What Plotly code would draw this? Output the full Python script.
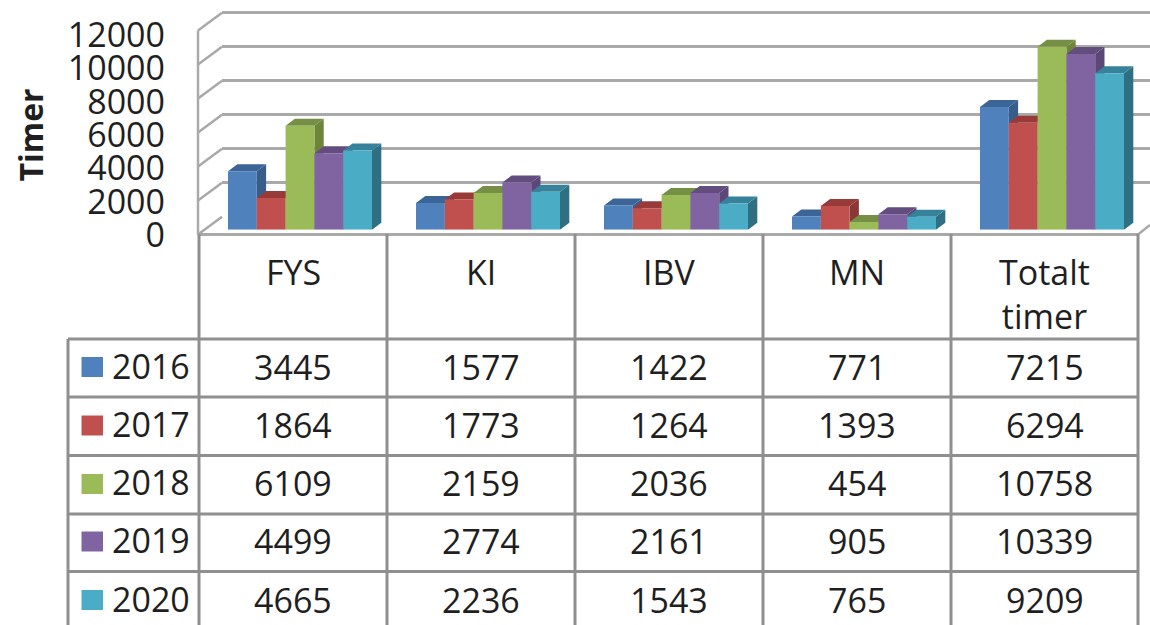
import plotly.graph_objects as go

categories = ["FYS", "KI", "IBV", "MN", "Totalt timer"]
years = ["2016", "2017", "2018", "2019", "2020"]
v2016 = [3445, 1577, 1422, 771, 7215]
v2017 = [1864, 1773, 1264, 1393, 6294]
v2018 = [6109, 2159, 2036, 454, 10758]
v2019 = [4499, 2774, 2161, 905, 10339]
v2020 = [4665, 2236, 1543, 765, 9209]
series = [v2016, v2017, v2018, v2019, v2020]
front = ["#4f81bd", "#c0504d", "#9bbb59", "#8064a2", "#4bacc6"]
side = ["#385d8a", "#8a3836", "#6d8539", "#5c4776", "#2f6f82"]
top = ["#3a6596", "#973a38", "#758f45", "#624d7e", "#35829a"]

W, H = 1150, 625
FONT = "Open Sans"
TXT = "#1f1f1f"
GRID = "#a9a9a9"
TABLE = "#8f8f8f"


def fx(p):
    return p / W


def fy(p):
    return 1 - p / H


PX_PER_UNIT = 0.017
PITCH = 188.0
X0 = 198.0
BASE_PX = 229.7
x_rng = [-102 / PITCH, -102 / PITCH + (W - X0) / PITCH]
y_rng = [0, BASE_PX / PX_PER_UNIT]
GROUP = 0.766
DEPTH_X = 9.3 / PITCH
DEPTH_Y = 7 / PX_PER_UNIT

fig = go.Figure()

# walls and tick labels (empty traces keep their axes alive)
fig.add_trace(go.Scatter(x=[], y=[], xaxis="x", yaxis="y", showlegend=False))
fig.add_trace(go.Scatter(x=[], y=[], xaxis="x2", yaxis="y2", showlegend=False))

# depth faces of each bar, through the data axes
bw = GROUP / len(series)
for j, vals in enumerate(series):
    for i, v in enumerate(vals):
        xl = i - GROUP / 2 + j * bw
        xr = xl + bw
        fig.add_trace(go.Scatter(
            x=[xr, xr + DEPTH_X, xr + DEPTH_X, xr, xr],
            y=[0, DEPTH_Y, v + DEPTH_Y, v, 0],
            fill="toself", fillcolor=side[j], mode="none",
            xaxis="x3", yaxis="y3", showlegend=False, hoverinfo="skip"))
        fig.add_trace(go.Scatter(
            x=[xl, xl + DEPTH_X, xr + DEPTH_X, xr, xl],
            y=[v, v + DEPTH_Y, v + DEPTH_Y, v, v],
            fill="toself", fillcolor=top[j], mode="none",
            xaxis="x3", yaxis="y3", showlegend=False, hoverinfo="skip"))

# front faces as real bars
for j, vals in enumerate(series):
    fig.add_trace(go.Bar(x=categories, y=vals, name=years[j], marker_color=front[j],
                         marker_line_width=0, xaxis="x4", yaxis="y4", showlegend=False))

shapes = []
annotations = []


def line(x0, y0, x1, y1, color, width, layer="above"):
    shapes.append(dict(type="line", xref="paper", yref="paper", x0=fx(x0), y0=fy(y0),
                       x1=fx(x1), y1=fy(y1), line=dict(color=color, width=width), layer=layer))


# side wall and floor
BACK_X, BACK_Y0, FRONT_Y0, WALL_H = 222.0, 216.7, 234.5, 204.0
for k in range(7):
    d = WALL_H * k / 6
    line(X0, FRONT_Y0 - d, BACK_X, BACK_Y0 - d, GRID, 2.5, "below")
line(X0, FRONT_Y0 - WALL_H, X0, FRONT_Y0, GRID, 2.5, "below")
line(X0, FRONT_Y0, 1138, FRONT_Y0, GRID, 3, "below")
line(1138, FRONT_Y0, 1150, 225, GRID, 2.5, "below")

# data table
col_x = [199, 387, 575, 763, 951, 1138]
row_y = [339, 397, 455.5, 514, 571.5]
row_text_y = [367, 425, 483, 541, 600]
key_y = [367, 425.5, 484, 541.5, 600]
for x in col_x:
    line(x, 234, x, 625, TABLE, 3)
line(68, 339, 68, 625, TABLE, 3)
for y in row_y:
    line(68, y, 1138, y, TABLE, 3)


def text(px, py, s, anchor="center", yanchor="middle"):
    annotations.append(dict(xref="paper", yref="paper", x=fx(px), y=fy(py), text=s, showarrow=False,
                            xanchor=anchor, yanchor=yanchor, align="center",
                            font=dict(family=FONT, size=34, color=TXT)))


for i, c in enumerate(categories):
    cx = (col_x[i] + col_x[i + 1]) / 2
    text(cx, 247, c.replace(" ", "<br>"), yanchor="top")
    for j, vals in enumerate(series):
        text(cx, row_text_y[j], str(vals[i]))

for j, yr in enumerate(years):
    text(110, row_text_y[j] - 1, yr, anchor="left")
    shapes.append(dict(type="rect", xref="paper", yref="paper", x0=fx(81.5), x1=fx(103),
                       y0=fy(key_y[j] - 10), y1=fy(key_y[j] + 10),
                       fillcolor=front[j], line=dict(width=0)))

hidden = dict(visible=False, fixedrange=True)
fig.update_layout(
    width=W, height=H, autosize=False,
    margin=dict(l=0, r=0, t=0, b=0, autoexpand=False),
    paper_bgcolor="white", plot_bgcolor="rgba(0,0,0,0)",
    barmode="group", bargap=1 - GROUP, bargroupgap=0,
    shapes=shapes, annotations=annotations, showlegend=False,
    xaxis=dict(domain=[fx(BACK_X), 1], anchor="y", **hidden),
    yaxis=dict(domain=[fy(BACK_Y0), fy(BACK_Y0 - WALL_H * 1.02)], anchor="x", range=[0, 12240], dtick=2000,
               showgrid=True, gridcolor=GRID, gridwidth=2.5, zeroline=False, showticklabels=False,
               showline=False, ticks=""),
    xaxis2=dict(domain=[fx(X0), 1], anchor="y2", **hidden),
    yaxis2=dict(domain=[fy(235), fy(35)], anchor="x2", range=[0, 12000], dtick=2000, tickformat="d",
                showgrid=False, zeroline=False, showline=False, ticks="", ticklabelstandoff=32,
                tickfont=dict(family=FONT, size=34, color=TXT),
                title=dict(text="<b>Timer</b>", standoff=14, font=dict(family=FONT, size=32, color=TXT))),
    xaxis3=dict(domain=[fx(X0), 1], anchor="y3", range=x_rng, **hidden),
    yaxis3=dict(domain=[fy(BASE_PX), 1], anchor="x3", range=y_rng, **hidden),
    xaxis4=dict(domain=[fx(X0), 1], anchor="y4", type="category", range=x_rng, **hidden),
    yaxis4=dict(domain=[fy(BASE_PX), 1], anchor="x4", range=y_rng, **hidden),
)

fig.write_html("out.html", config={"displayModeBar": False},
               post_script="document.body.style.margin='0';")
